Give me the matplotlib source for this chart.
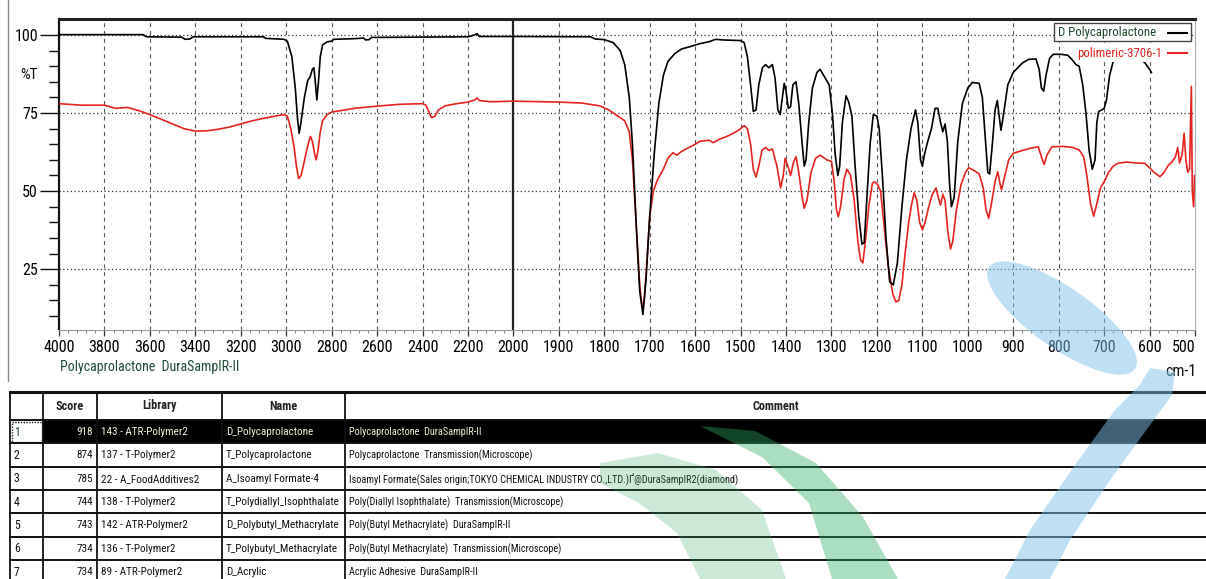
import numpy as np
import matplotlib
matplotlib.use("Agg")
import matplotlib.pyplot as plt
from matplotlib import font_manager as fm
from matplotlib.patches import Rectangle, Ellipse, Polygon

# ---------------- data ----------------
black_wn = [4000, 3630, 3615, 3460, 3445, 3425, 3410, 3100, 3090, 3010, 2995, 2975, 2960, 2950, 2943,
            2935, 2920, 2905, 2895, 2885, 2878, 2872, 2865, 2858, 2850, 2840, 2820, 2800, 2790, 2700,
            2660, 2650, 2635, 2625, 2400, 2200, 2175, 2160, 2150, 2000, 1830, 1820, 1800, 1780, 1765,
            1755, 1745, 1738, 1730, 1722, 1715, 1708, 1700, 1690, 1680, 1670, 1660, 1645, 1630, 1610,
            1590, 1570, 1555, 1540, 1500, 1492, 1485, 1478, 1472, 1466, 1460, 1452, 1445, 1438, 1430,
            1424, 1418, 1413, 1408, 1404, 1400, 1395, 1390, 1385, 1378, 1372, 1365, 1360, 1356, 1350,
            1342, 1332, 1325, 1315, 1305, 1298, 1292, 1286, 1282, 1276, 1268, 1262, 1255, 1248, 1240,
            1233, 1228, 1222, 1215, 1208, 1200, 1195, 1188, 1180, 1172, 1164, 1155, 1145, 1135, 1125,
            1115, 1110, 1104, 1100, 1095, 1088, 1080, 1072, 1066, 1060, 1055, 1050, 1045, 1040, 1036,
            1030, 1022, 1012, 1000, 990, 975, 968, 962, 956, 952, 946, 940, 935, 931, 927,
            922, 912, 900, 880, 866, 850, 843, 838, 833, 828, 820, 812, 795, 780, 770,
            762, 755, 747, 740, 733, 726, 720, 716, 712, 705, 700, 695, 688, 680, 670,
            650, 625, 610, 600, 596]
black_t = [100.1, 100.1, 99.4, 99.3, 98.6, 98.7, 99.4, 99.4, 98.9, 98.6, 98.0, 93, 83, 73, 68.5,
           72, 80, 85.5, 86.5, 89, 89.5, 85, 79.2, 85, 93, 96.8, 97.8, 98.0, 98.6, 98.8,
           99.0, 98.4, 98.5, 99.2, 99.3, 99.4, 99.9, 100.4, 99.5, 99.5, 99.4, 98.7, 98.5, 97.5, 95,
           90.5, 80, 65, 40, 18, 10.5, 22, 42, 62, 78, 87, 91.5, 94, 95.5, 96.3,
           97.2, 97.8, 98.6, 98.4, 98.2, 97.5, 93, 84, 75.5, 76, 84, 89.5, 90.5, 89.5, 90.5,
           86, 76, 74.5, 80, 84.5, 82, 76.5, 77, 84, 85, 78, 66, 58, 60, 72,
           83, 88, 89, 86.5, 84, 75, 62, 55, 58, 72, 80.5, 78.5, 74, 58, 42,
           33, 33.5, 48, 65, 74.5, 74, 70, 55, 35, 21, 20, 27, 45, 60, 70,
           76, 72, 60, 58, 62, 66, 70, 76.5, 76.5, 72, 69, 71.5, 66, 52, 45,
           48, 66, 78, 83, 84.8, 84.5, 80, 68, 56, 55.5, 65, 76, 79, 74, 69.5,
           74, 84, 88, 91, 92.2, 92.3, 89, 83, 82, 87, 92.5, 93.8, 93.8, 93.5, 92,
           90.5, 90, 84, 75, 63, 57, 60, 72, 75.5, 76, 76.5, 79, 87, 91.5, 93,
           93.5, 93, 91, 89, 88]

red_wn = [4000, 3900, 3800, 3750, 3700, 3650, 3600, 3550, 3500, 3450, 3400, 3350, 3300, 3250, 3200,
          3150, 3100, 3050, 3010, 2995, 2980, 2965, 2955, 2945, 2935, 2925, 2910, 2900, 2893, 2885,
          2875, 2868, 2860, 2850, 2840, 2820, 2800, 2700, 2600, 2500, 2400, 2385, 2370, 2360, 2345,
          2330, 2300, 2250, 2200, 2170, 2160, 2150, 2100, 2000, 1900, 1850, 1810, 1790, 1770, 1755,
          1745, 1738, 1730, 1722, 1717, 1712, 1706, 1700, 1692, 1683, 1670, 1660, 1649, 1640, 1632,
          1620, 1600, 1589, 1570, 1560, 1547, 1530, 1510, 1500, 1492, 1485, 1478, 1472, 1466, 1460,
          1453, 1445, 1438, 1430, 1420, 1412, 1406, 1402, 1396, 1390, 1384, 1378, 1372, 1365, 1360,
          1354, 1345, 1335, 1325, 1310, 1300, 1294, 1289, 1285, 1280, 1272, 1266, 1258, 1250, 1242,
          1236, 1231, 1226, 1218, 1210, 1205, 1198, 1192, 1185, 1175, 1165, 1158, 1152, 1145, 1138,
          1130, 1124, 1118, 1112, 1106, 1100, 1094, 1086, 1078, 1070, 1065, 1060, 1055, 1050, 1044,
          1038, 1033, 1025, 1015, 1005, 998, 985, 975, 966, 960, 954, 948, 940, 934, 930,
          926, 920, 910, 900, 880, 860, 845, 838, 832, 826, 815, 790, 770, 755, 745,
          738, 730, 723, 716, 708, 700, 690, 680, 670, 650, 630, 611, 600, 590, 577,
          568, 560, 550, 543, 538, 534, 528, 524, 520, 516, 512, 508, 506, 503, 501]
red_t = [78, 77.5, 77.5, 76.5, 76.8, 75.8, 74.5, 73, 71.5, 70, 69.2, 69.3, 69.8, 70.5, 71.5,
         72.5, 73.3, 74, 74.5, 74, 70, 64, 58, 54, 55, 58, 63, 66, 67.5, 66,
         62, 60, 63, 69, 72.5, 74.5, 75.3, 76.5, 77.2, 77.8, 78, 77.5, 75, 73.5, 74,
         76, 77.3, 78, 78.5, 79.2, 79.8, 79, 78.6, 78.8, 78.5, 78.2, 77.3, 76, 74, 72.5,
         69, 60, 40, 20, 13, 15, 28, 41.8, 50, 53.6, 57, 60.5, 62.3, 61.5, 62.5,
         63.5, 65, 66, 66.3, 65.5, 66.6, 67.5, 69, 70, 71, 70, 65, 57, 54.5, 58,
         63, 64, 63, 63.5, 58, 51, 55, 60.5, 58, 55, 59, 61, 56, 48.5, 44.5,
         47, 56, 60.5, 61.5, 60, 59.5, 53, 44, 41.8, 45, 54, 57, 55, 47, 34,
         28, 27, 33, 45, 52.5, 53, 52, 50, 40, 26, 17, 14.5, 15, 20, 30,
         40, 45.5, 49.5, 47, 40, 37.6, 40, 45, 49, 51, 48, 45.5, 49, 47, 37,
         31.5, 34, 44, 52, 56, 57.5, 56.5, 55.5, 51, 44, 41.3, 46, 53, 56.2, 53,
         50.4, 54, 60, 62.1, 63, 63.8, 64.2, 61, 58.5, 61.5, 64.2, 64.3, 64, 63.2, 61,
         55, 46, 42, 46, 51, 53, 56, 58, 58.9, 59.3, 59, 58.9, 57.5, 56, 54.6,
         56, 58, 59.5, 61, 64, 59, 62, 68.5, 60, 56, 57, 83.5, 50, 45, 55]

series_names = ["D Polycaprolactone", "polimeric-3706-1"]
x_major = [4000, 3800, 3600, 3400, 3200, 3000, 2800, 2600, 2400, 2200, 2000,
           1900, 1800, 1700, 1600, 1500, 1400, 1300, 1200, 1100, 1000, 900, 800, 700, 600, 500]
y_major = [25, 50, 75, 100]

tbl_header = ["", "Score", "Library", "Name", "Comment"]
tbl_rank = ["1", "2", "3", "4", "5", "6", "7"]
tbl_score = ["918", "874", "785", "744", "743", "734", "734"]
tbl_library = ["143 - ATR-Polymer2", "137 - T-Polymer2", "22 - A_FoodAdditives2", "138 - T-Polymer2",
               "142 - ATR-Polymer2", "136 - T-Polymer2", "89 - ATR-Polymer2"]
tbl_name = ["D_Polycaprolactone", "T_Polycaprolactone", "A_Isoamyl Formate-4", "T_Polydiallyl_Isophthalate",
            "D_Polybutyl_Methacrylate", "T_Polybutyl_Methacrylate", "D_Acrylic"]
tbl_comment = ["Polycaprolactone  DuraSampIR-II", "Polycaprolactone  Transmission(Microscope)",
               "Isoamyl Formate(Sales origin;TOKYO CHEMICAL INDUSTRY CO.,LTD.)Ґ@DuraSampIR2(diamond)",
               "Poly(Diallyl Isophthalate)  Transmission(Microscope)",
               "Poly(Butyl Methacrylate)  DuraSampIR-II",
               "Poly(Butyl Methacrylate)  Transmission(Microscope)",
               "Acrylic Adhesive  DuraSampIR-II"]

# ---------------- fonts ----------------
ttf = fm.fontManager.ttflist
names = {f.name for f in ttf}
STRETCH = "normal"
FAM = None
for cand in ("Liberation Sans Narrow", "Arial Narrow", "Roboto Condensed", "Open Sans Condensed",
             "Noto Sans Condensed", "DejaVu Sans Condensed"):
    if cand in names:
        FAM = cand
        break
if FAM is None:
    for f in ttf:
        if str(f.stretch) in ("condensed", "semi-condensed", "extra-condensed") and "Mono" not in f.name \
                and "Serif" not in f.name:
            FAM = f.name
            STRETCH = str(f.stretch)
            break
if FAM is None:
    FAM = "Liberation Sans"
plt.rcParams["font.family"] = [FAM, "Liberation Sans", "DejaVu Sans"]
plt.rcParams["font.stretch"] = STRETCH

W, H = 1206, 579
fig = plt.figure(figsize=(W / 100, H / 100), dpi=100)
fig.patch.set_facecolor("white")

L, R, T, B = 59, 1195, 19, 329.5
ax = fig.add_axes([L / W, 1 - B / H, (R - L) / W, (B - T) / H])


def fwd(x):
    x = np.asarray(x, dtype=float)
    return np.where(x <= 2000, x, 2000 + (x - 2000) / 2.0)


def inv(y):
    y = np.asarray(y, dtype=float)
    return np.where(y <= 2000, y, 2000 + (y - 2000) * 2.0)


ax.set_xscale("function", functions=(fwd, inv))
ax.set_xlim(4000, 500)
ax.set_ylim(5.7, 105.1)

# grid
for xv in x_major:
    if xv in (4000, 500):
        continue
    if xv == 2000:
        ax.axvline(xv, color="#222222", lw=1.6, zorder=1)
    else:
        ax.axvline(xv, color="#555555", lw=0.8, ls=(0, (3.5, 3.5)), zorder=1)
for yv in y_major:
    ax.axhline(yv, color="#333333", lw=0.9, ls=(0, (1, 2)), zorder=1)

ax.plot(red_wn, red_t, color="#e3241f", lw=1.2, zorder=3)
ax.plot(black_wn, black_t, color="#000000", lw=1.2, zorder=4)

# ticks
minor_x = [v for v in range(4000, 2000, -40)] + [v for v in range(2000, 499, -20)]
minor_x = [v for v in minor_x if v not in x_major]
ax.set_xticks(x_major)
ax.set_xticklabels([str(v) for v in x_major])
ax.set_xticks(minor_x, minor=True)
ax.tick_params(axis="x", which="major", length=4.5, width=0.9, color="#333333", pad=3,
               labelsize=11.5, direction="out")
ax.tick_params(axis="x", which="minor", length=2.5, width=0.8, color="#888888", direction="out")
ax.set_yticks(y_major)
ax.set_yticklabels([str(v) for v in y_major])
ax.set_yticks([10, 15, 20, 30, 35, 40, 45, 55, 60, 65, 70, 80, 85, 90, 95], minor=True)
ax.tick_params(axis="y", which="major", length=13.7, width=1.0, color="#111111", pad=1.5,
               labelsize=11.5, direction="out")
ax.tick_params(axis="y", which="minor", length=7, width=1.0, color="#111111", direction="out")
ax.get_xticklabels()[-1].set_horizontalalignment("right")

ax.spines["top"].set_linewidth(2.2)
ax.spines["top"].set_color("#222222")
ax.spines["left"].set_linewidth(1.6)
ax.spines["left"].set_color("#111111")
ax.spines["bottom"].set_linewidth(0.8)
ax.spines["bottom"].set_color("#9a9a9a")
ax.spines["right"].set_linewidth(0.8)
ax.spines["right"].set_color("#b0b0b0")

# ---------------- overlay (pixel coordinates) ----------------
ov = fig.add_axes([0, 0, 1, 1], zorder=5)
ov.set_xlim(0, W)
ov.set_ylim(H, 0)
ov.axis("off")
ov.patch.set_visible(False)

ov.plot([8, 8], [0, 381], color="#8a8a8a", lw=1.0)
ov.text(20, 75, "%T", fontsize=11, ha="left", va="center", color="#111111")
ov.text(60, 367, "Polycaprolactone  DuraSampIR-II", fontsize=10, ha="left", va="center", color="#1d4d35")
ov.text(1196, 372, "cm-1", fontsize=11.5, ha="right", va="center", color="#111111")

# legend
ov.add_patch(Rectangle((1054, 23), 137, 18, facecolor="white", edgecolor="#444444", lw=1.0, zorder=6))
ov.text(1058, 32.5, series_names[0], fontsize=9.2, ha="left", va="center", color="#1c4a2c", zorder=7)
ov.plot([1168, 1187], [32.5, 32.5], color="black", lw=1.5, zorder=7)
ov.add_patch(Rectangle((1075, 44), 116, 18, facecolor="white", edgecolor="none", zorder=6))
ov.text(1077, 53, series_names[1], fontsize=9.2, ha="left", va="center", color="#e3241f", zorder=7)
ov.plot([1168, 1187], [53, 53], color="#e3241f", lw=1.5, zorder=7)

# ---------------- table ----------------
TOP, HDR, RH = 392, 420, 23.33
cols = [10, 43, 97, 222, 345, W + 5]
n = len(tbl_rank)
bottom_y = HDR + RH * n
ov.add_patch(Rectangle((cols[1], HDR), W - cols[1], RH, facecolor="black", edgecolor="none", zorder=2))
ov.add_patch(Rectangle((cols[0] + 1.5, HDR + 1.5), cols[1] - cols[0] - 3, RH - 3, facecolor="white",
                       edgecolor="#222222", lw=1.0, ls=(0, (1, 1)), zorder=3))
ov.plot([cols[0], W], [TOP, TOP], color="#111111", lw=2.2, zorder=3)
for k in range(n + 1):
    yv = HDR + RH * k
    ov.plot([cols[0], W], [yv, yv], color="#111111", lw=1.4, zorder=3)
for cx in cols[:-1]:
    ov.plot([cx, cx], [TOP, bottom_y], color="#111111", lw=1.3, zorder=3)

hdr_y = (TOP + HDR) / 2
for i in range(1, 5):
    ov.text((cols[i] + cols[i + 1] if i < 4 else cols[4] + W) / 2, hdr_y, tbl_header[i], fontsize=8.8,
            fontweight="bold", ha="center", va="center", color="#222222", zorder=4)

TS = 7.4
for k in range(n):
    yc = HDR + RH * k + RH / 2 + 0.5
    light = (k == 0)
    c = "#f2efd8" if light else "#111111"
    ov.text(cols[0] + 4, yc, tbl_rank[k], fontsize=8.5, ha="left", va="center",
            color="#1c4a2c" if light else "#111111", zorder=4)
    ov.text(cols[2] - 4, yc, tbl_score[k], fontsize=8, ha="right", va="center", color=c, zorder=4)
    ov.text(cols[2] + 4, yc, tbl_library[k], fontsize=8, ha="left", va="center", color=c, zorder=4)
    ov.text(cols[3] + 4, yc, tbl_name[k], fontsize=8, ha="left", va="center", color=c, zorder=4)
    ov.text(cols[4] + 4, yc, tbl_comment[k], fontsize=TS, ha="left", va="center", color=c, zorder=4)

# ---------------- watermark ----------------
ov.add_patch(Ellipse((1062, 318), 178, 60, angle=35, facecolor="#7cc3ea", edgecolor="none",
                     alpha=0.5, zorder=9))
ov.add_patch(Polygon([(1150, 368), (1175, 372), (1172, 395), (1150, 425), (1110, 480), (1070, 540),
                      (1050, 579), (1005, 579), (1030, 530), (1075, 465), (1115, 410), (1140, 385)],
                     closed=True, facecolor="#7cc3ea", edgecolor="none", alpha=0.5, zorder=9))
ov.add_patch(Polygon([(700, 426), (755, 431), (816, 463), (863, 517), (898, 579), (832, 579),
                      (809, 503), (762, 457)],
                     closed=True, facecolor="#2fae62", edgecolor="none", alpha=0.4, zorder=9))
ov.add_patch(Polygon([(600, 463), (658, 453), (716, 470), (762, 510), (786, 579), (700, 579),
                      (677, 533), (639, 503), (600, 483)],
                     closed=True, facecolor="#2fae62", edgecolor="none", alpha=0.25, zorder=9))

fig.savefig("out.png", dpi=100, facecolor="white")
